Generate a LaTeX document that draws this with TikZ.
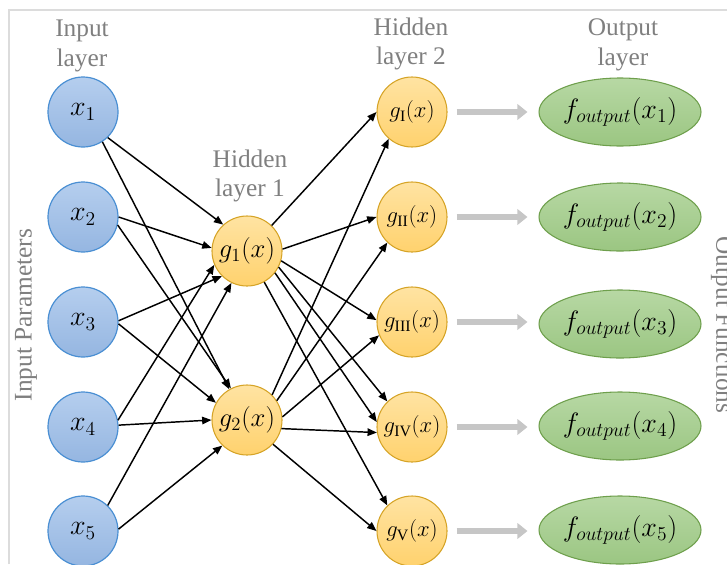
\documentclass[tikz,border=0pt]{standalone}
\usepackage{fix-cm}
\usepackage{fontspec}
\setmainfont{Liberation Serif}
\usetikzlibrary{arrows.meta,shapes.geometric}
\definecolor{inptop}{HTML}{B5CEEE}
\definecolor{inpbot}{HTML}{95B6E1}
\definecolor{inpborder}{HTML}{4A8FD3}
\definecolor{hidtop}{HTML}{FFE3A2}
\definecolor{hidbot}{HTML}{FFD26E}
\definecolor{hidborder}{HTML}{D6A427}
\definecolor{outtop}{HTML}{B7D8A4}
\definecolor{outbot}{HTML}{9BC682}
\definecolor{outborder}{HTML}{6E9F4C}
\definecolor{lblgray}{HTML}{7F7F7F}
\definecolor{arrgray}{HTML}{C6C6C6}
\definecolor{framegray}{HTML}{DCDCDC}
\begin{document}
\begin{tikzpicture}[x=0.75pt,y=-0.75pt,
  inp/.style={circle,draw=inpborder,line width=0.9pt,top color=inptop,bottom color=inpbot,
    minimum size=52.5pt,inner sep=0pt,font=\fontsize{21}{25}\selectfont},
  hid/.style={circle,draw=hidborder,line width=0.8pt,top color=hidtop,bottom color=hidbot,
    minimum size=52.5pt,inner sep=0pt},
  hidA/.style={hid,font=\fontsize{20}{24}\selectfont},
  hidB/.style={hid,font=\fontsize{17}{20}\selectfont},
  outn/.style={ellipse,draw=outborder,line width=0.8pt,top color=outtop,bottom color=outbot,
    minimum width=121.5pt,minimum height=51pt,inner sep=0pt,font=\fontsize{21}{25}\selectfont},
  lbl/.style={text=lblgray,align=center,inner sep=0pt,font=\fontsize{19}{22}\selectfont},
  conn/.style={-{Triangle[length=7pt,width=5.6pt]},line width=1.1pt,black},
  bigarr/.style={-{Triangle[length=7.5pt,width=11.5pt]},line width=5.2pt,draw=arrgray,
    shorten <=6.75pt,shorten >=8.25pt},
  framed/.style={draw=framegray,line width=1.2pt}
]
\useasboundingbox (0,0) rectangle (727,564);
\draw[framed] (9,564) -- (9,10) -- (727,10);

% labels
\node[lbl] (linp) at (82,46) {Input\\layer};
\node[lbl] (lh1) at (250,176) {Hidden\\layer 1};
\node[lbl] (lh2) at (411,44) {Hidden\\layer 2};
\node[lbl] (lout) at (623,45) {Output\\layer};
\node[lbl,rotate=90] (lip) at (26,315) {Input Parameters};
\node[lbl,rotate=-90] (lof) at (722,325) {Output Functions};

% input layer
\node[inp] (x1) at (83,112) {$x_1$};
\node[inp] (x2) at (83,217) {$x_2$};
\node[inp] (x3) at (83,322) {$x_3$};
\node[inp] (x4) at (83,427) {$x_4$};
\node[inp] (x5) at (83,531) {$x_5$};

% hidden layer 1
\node[hidA] (g1) at (247,251) {$g_1(x)$};
\node[hidA] (g2) at (247,420) {$g_2(x)$};

% hidden layer 2
\node[hidB] (gI) at (412,112) {$g_{\mathrm{I}}(x)$};
\node[hidB] (gII) at (412,217) {$g_{\mathrm{II}}(x)$};
\node[hidB] (gIII) at (412,322) {$g_{\mathrm{III}}(x)$};
\node[hidB] (gIV) at (412,427) {$g_{\mathrm{IV}}(x)$};
\node[hidB] (gV) at (412,531) {$g_{\mathrm{V}}(x)$};

% output layer
\node[outn] (f1) at (620,112) {$f_{output}(x_1)$};
\node[outn] (f2) at (620,217) {$f_{output}(x_2)$};
\node[outn] (f3) at (620,324) {$f_{output}(x_3)$};
\node[outn] (f4) at (620,426) {$f_{output}(x_4)$};
\node[outn] (f5) at (620,530) {$f_{output}(x_5)$};

% input -> hidden 1
\draw[conn] (x1.-46) -- (g1.132);
\draw[conn] (x1.-57) -- (g2.120);
\draw[conn] (x2.0) -- (g1.175);
\draw[conn] (x2.-13) -- (g2.117);
\draw[conn] (x3.2) -- (g1.225);
\draw[conn] (x3.-3) -- (g2.151);
\draw[conn] (x4.11) -- (g1.203);
\draw[conn] (x4.3) -- (g2.180);
\draw[conn] (x5.46) -- (g1.244);
\draw[conn] (x5.3) -- (g2.226);

% hidden 1 -> hidden 2
\draw[conn] (g1.46) -- (gI.180);
\draw[conn] (g1.3) -- (gII.180);
\draw[conn] (g1.-16) -- (gIII.177);
\draw[conn] (g1.-27) -- (gIV.134);
\draw[conn] (g1.-38) -- (gIV.172);
\draw[conn] (g1.-61) -- (gV.134);
\draw[conn] (g2.45) -- (gI.229);
\draw[conn] (g2.33) -- (gII.226);
\draw[conn] (g2.5) -- (gIII.202);
\draw[conn] (g2.-14) -- (gIV.189);
\draw[conn] (g2.-43) -- (gV.180);

% hidden 2 -> output
\draw[bigarr] (gI) -- (f1);
\draw[bigarr] (gII) -- (f2);
\draw[bigarr] (gIII) -- (gIII -| f3.west);
\draw[bigarr] (gIV) -- (gIV -| f4.west);
\draw[bigarr] (gV) -- (gV -| f5.west);
\end{tikzpicture}
\end{document}
